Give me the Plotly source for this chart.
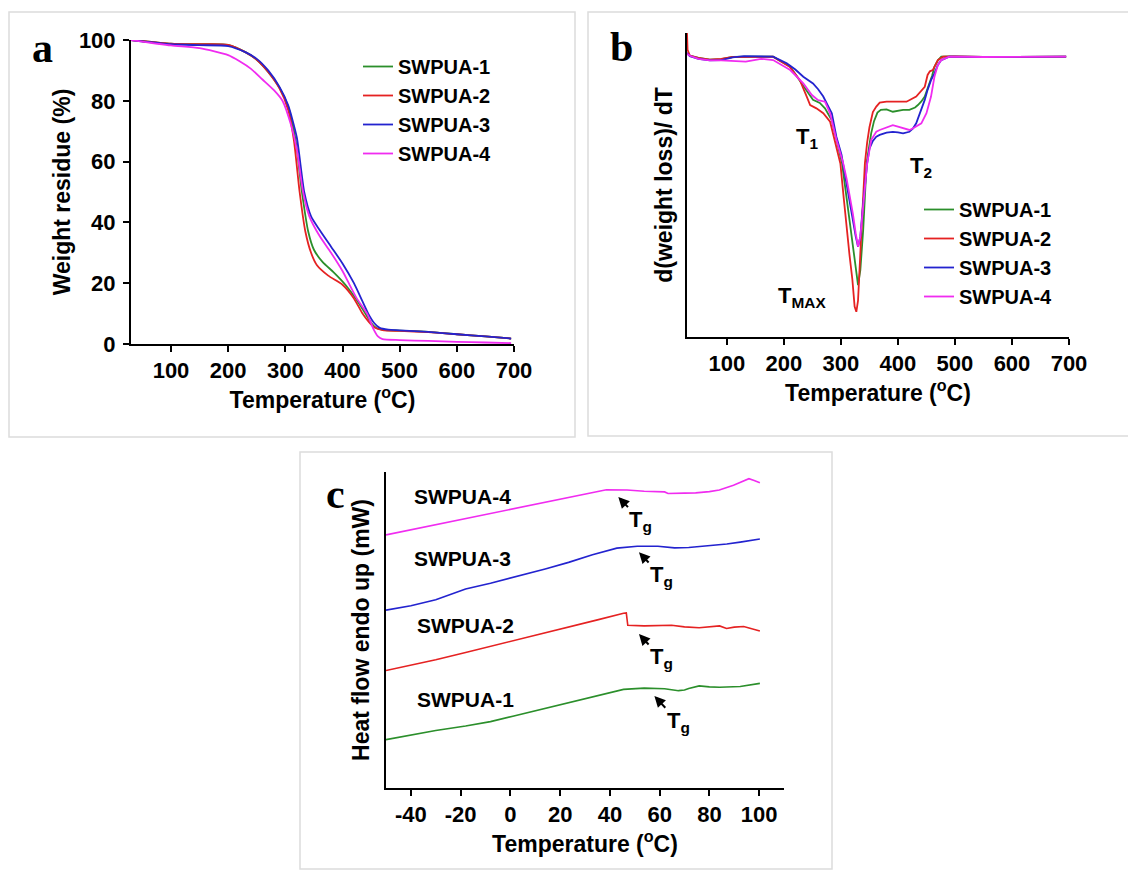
import plotly.graph_objects as go

# ---------------- data ----------------
series_names = ["SWPUA-1", "SWPUA-2", "SWPUA-3", "SWPUA-4"]

# Panel a: TGA weight residue (%)
a_t1 = [30, 100, 150, 200, 230, 250, 270, 290, 305, 318, 329, 340, 350, 365, 385, 405, 425, 440, 450, 460, 475, 500, 550, 600, 650, 695]
a_v1 = [100, 98.8, 98.6, 98.4, 96, 93.5, 89.5, 84.2, 78, 67, 50, 37, 31, 27, 23.5, 19.5, 14.5, 10, 7, 5.2, 4.6, 4.4, 4, 3.2, 2.5, 1.8]
a_t2 = [30, 100, 150, 200, 230, 250, 270, 290, 305, 315, 325, 335, 345, 355, 375, 400, 420, 435, 445, 455, 470, 500, 550, 600, 650, 695]
a_v2 = [100, 98.8, 98.6, 98.4, 96, 93.5, 89.5, 84, 77, 67, 50, 37, 30, 26, 22.5, 19.5, 15, 10, 7.5, 5.5, 4.6, 4.3, 3.9, 3.2, 2.5, 1.8]
a_t3 = [30, 100, 150, 200, 230, 250, 270, 290, 305, 320, 333, 345, 360, 380, 400, 420, 435, 445, 455, 465, 480, 500, 550, 600, 650, 695]
a_v3 = [100, 98.6, 98.3, 98, 96, 93.8, 90, 84.5, 78.5, 68, 50, 42, 37.5, 32, 26.5, 20, 14, 10, 7, 5.3, 4.7, 4.5, 4, 3.2, 2.5, 1.8]
a_t4 = [30, 100, 150, 200, 220, 240, 260, 280, 295, 310, 320, 331, 342, 360, 380, 400, 411, 425, 443, 454, 462, 470, 500, 550, 600, 650, 695]
a_v4 = [100, 98.2, 97.3, 95, 93, 90.5, 87, 83.5, 80, 72, 64, 50, 42, 35.5, 30, 24, 20, 15, 10, 5, 2.5, 1.6, 1.3, 1.0, 0.7, 0.5, 0.3]

# Panel b: DTG (arbitrary units)
b_t1 = [30, 35, 50, 70, 90, 110, 140, 181, 211, 228, 243, 251, 263, 272, 284, 292, 302, 308, 314, 320, 325, 330, 334, 339, 345, 350, 353, 358, 364, 370, 380, 391, 400, 409, 420, 430, 435, 441, 447, 455, 460, 464, 470, 476, 490, 550, 600, 650, 695]
b_v1 = [93.4, 92.6, 91.8, 91.2, 91.4, 92.1, 92.2, 92.2, 88.9, 84.5, 80.2, 78.0, 77.0, 75.2, 71.3, 65.0, 57.1, 48.5, 40, 31.5, 23.5, 17.1, 22, 35.2, 57.1, 63.5, 67, 71, 73.8, 74.7, 74.9, 74.1, 74.5, 74.7, 74.7, 75.5, 76.3, 77.5, 79.1, 83.4, 86, 88.9, 91, 92.2, 92.3, 92.1, 92.2, 92.1, 92.2]
b_t2 = [30, 31, 35, 50, 70, 90, 110, 140, 181, 210, 228, 240, 246, 257, 269, 281, 289, 299, 305, 310, 315, 320, 324, 327, 330, 336, 342, 346, 350, 356, 362, 368, 380, 395, 415, 432, 441, 447, 452, 456, 461, 470, 479, 500, 550, 600, 650, 695]
b_v2 = [100, 94.5, 92.6, 91.8, 91.2, 91.5, 92.1, 92.2, 92.2, 88.9, 84.5, 79.1, 76.3, 75.2, 73.6, 70.8, 64.8, 57.1, 45.5, 35.5, 27, 19, 10, 8.3, 12, 35.2, 57.1, 64, 69, 74, 75.8, 77.1, 77.4, 77.4, 77.4, 79.1, 81, 82.3, 86.2, 87.4, 87.8, 91.1, 92.2, 92.3, 92.1, 92.2, 92.1, 92.2]
b_t3 = [30, 35, 50, 70, 90, 110, 130, 160, 181, 205, 220, 234, 251, 260, 269, 276, 284, 292, 301, 306, 311, 316, 321, 326, 330, 334, 338, 341, 346, 350, 356, 362, 368, 380, 391, 400, 409, 420, 426, 432, 441, 447, 452, 458, 464, 470, 476, 490, 550, 600, 650, 695]
b_v3 = [93.4, 92.4, 91.5, 91.0, 91.1, 92.0, 92.4, 92.4, 92.2, 90.0, 88, 85.6, 83.4, 81.5, 79.1, 76.5, 73.6, 65.9, 60, 54.5, 49, 43.5, 38.5, 33, 29.7, 33, 42, 48, 57.1, 62, 64.5, 65.9, 66.5, 67.2, 67.5, 67.3, 67.0, 67.5, 68.5, 70.3, 74.7, 78, 81.3, 84.5, 86.7, 89.5, 91.1, 92.2, 92.1, 92.2, 92.1, 92.2]
b_t4 = [30, 35, 50, 70, 90, 110, 133, 160, 181, 211, 234, 249, 260, 272, 281, 292, 304, 310, 316, 321, 326, 330, 334, 338, 341, 346, 353, 362, 368, 380, 391, 400, 409, 420, 426, 432, 441, 450, 458, 464, 470, 476, 490, 550, 600, 650, 695]
b_v4 = [93.2, 92.5, 91.5, 91.0, 91.0, 90.8, 90.6, 91.5, 91.1, 87.8, 83.4, 79.6, 77.9, 77.4, 73.6, 65.0, 57.1, 52, 46, 40.5, 34, 29.7, 33, 42, 48, 57.1, 64.8, 67.5, 68.1, 69.0, 69.7, 69.2, 68.6, 68.1, 68.6, 69.2, 70.3, 73.6, 79.1, 85.6, 89.5, 91.1, 92.2, 92.1, 92.2, 92.1, 92.2]

# Panel c: DSC heat flow (arbitrary units, stacked)
c_t1 = [-50, -40, -30, -18, -8, 1.4, 12, 23.4, 35, 45.5, 53.8, 62, 67.6, 70, 71.7, 74, 75.9, 80, 84.1, 92.4, 100.3]
c_v1 = [15.3, 16.8, 18.2, 19.6, 21.0, 22.8, 24.8, 27.0, 29.2, 31.2, 31.6, 31.4, 30.8, 31.0, 31.5, 31.9, 32.3, 32.0, 31.9, 32.1, 33.1]
c_t2 = [-50, -40, -30, -18, -8, 1.4, 12, 23.4, 35, 45.5, 46.6, 47.2, 53.8, 64.8, 70, 75.9, 80, 84.1, 86.9, 90, 93.8, 97, 100.3]
c_v2 = [37.2, 38.8, 40.6, 42.9, 44.8, 46.6, 48.7, 50.8, 53.2, 55.3, 55.4, 51.5, 51.3, 51.5, 51.0, 50.7, 51.0, 51.3, 50.5, 50.9, 51.1, 50.4, 49.7]
c_t3 = [-50, -40, -30, -18, -8, 4.1, 14, 23.4, 33, 42.8, 51, 59.3, 66, 71.7, 76, 81.4, 87, 92.4, 100.3]
c_v3 = [56.3, 57.7, 59.6, 63.0, 64.8, 67.2, 69.3, 71.4, 73.8, 75.9, 76.5, 76.5, 76.0, 76.1, 76.4, 76.7, 77.2, 77.8, 78.8]
c_t4 = [-50, -40, -30, -18, -10, 1.4, 10, 20.7, 30, 38.6, 46.9, 53.8, 62, 63.4, 70, 74.5, 80, 84, 89.7, 93, 95.9, 98, 100.3]
c_v4 = [80.1, 81.7, 83.2, 85.2, 86.5, 88.4, 89.8, 91.5, 93.0, 94.4, 94.3, 93.9, 93.7, 93.2, 93.3, 93.4, 93.8, 94.3, 95.8, 97.0, 97.9, 97.3, 96.6]

# Tg arrows in panel c: arrow tip (T, value) and label position (T, value)
tg_tip_t = [57.9, 51.7, 51.7, 43.4]
tg_tip_v = [29.1, 48.7, 74.6, 92.1]
tg_lab_t = [67.5, 60.8, 60.8, 52.5]
tg_lab_v = [21.0, 41.0, 67.0, 84.5]
c_name_t = [-17.9, -17.9, -19.3, -19.3]
c_name_v = [28.0, 51.3, 72.5, 92.1]

a_ticks = [100, 200, 300, 400, 500, 600, 700]
a_yticks = [0, 20, 40, 60, 80, 100]
c_ticks = [-40, -20, 0, 20, 40, 60, 80, 100]
c_tick_labels = ["-40", "-20", "0", "20", "40", "60", "80", "100"]

# ---------------- layout helpers ----------------
W, H = 1136, 870
OFF = 8  # page body margin offset
def px(x):
    return (x - OFF) / W
def py(y):
    return 1 - (y - OFF) / H

colors = ["#2b8f2b", "#e52222", "#2323cf", "#f02cf0"]
SANS = "Arial, Liberation Sans, sans-serif"
TICKF = dict(family=SANS, size=22, color="black", weight="bold")
TITLEF = dict(family=SANS, size=23, color="black", weight="bold")

fig = go.Figure()

a_data = [(a_t1, a_v1), (a_t2, a_v2), (a_t3, a_v3), (a_t4, a_v4)]
b_data = [(b_t1, b_v1), (b_t2, b_v2), (b_t3, b_v3), (b_t4, b_v4)]
c_data = [(c_t1, c_v1), (c_t2, c_v2), (c_t3, c_v3), (c_t4, c_v4)]

for i, (t, v) in enumerate(a_data):
    fig.add_trace(go.Scatter(x=t, y=v, mode="lines", name=series_names[i],
                             line=dict(color=colors[i], width=1.8, shape="spline", smoothing=0.6),
                             xaxis="x", yaxis="y", legend="legend"))
for i, (t, v) in enumerate(b_data):
    fig.add_trace(go.Scatter(x=t, y=v, mode="lines", name=series_names[i],
                             line=dict(color=colors[i], width=1.8),
                             xaxis="x2", yaxis="y2", legend="legend2"))
for i, (t, v) in enumerate(c_data):
    fig.add_trace(go.Scatter(x=t, y=v, mode="lines", name=series_names[i],
                             line=dict(color=colors[i], width=1.6),
                             xaxis="x3", yaxis="y3", showlegend=False))

axis_common = dict(showline=True, linecolor="black", linewidth=2, showgrid=False,
                   zeroline=False, ticks="outside", ticklen=6, tickwidth=2,
                   tickcolor="black", tickfont=TICKF, mirror=False, automargin=False)

fig.update_layout(
    width=W, height=H, autosize=False,
    margin=dict(l=0, r=0, t=0, b=0, pad=0),
    paper_bgcolor="white", plot_bgcolor="white",
    xaxis=dict(axis_common, domain=[px(131), px(514)], range=[30, 700], tickvals=a_ticks,
               anchor="y", title=dict(text="Temperature (<sup>o</sup>C)", font=TITLEF, standoff=6)),
    yaxis=dict(axis_common, domain=[py(344), py(40)], range=[0, 100], tickvals=a_yticks,
               anchor="x", ticklabelstandoff=3,
               title=dict(text="Weight residue (%)", font=TITLEF, standoff=2)),
    xaxis2=dict(axis_common, domain=[px(687), px(1069)], range=[30, 700], tickvals=a_ticks,
                anchor="y2", title=dict(text="Temperature (<sup>o</sup>C)", font=TITLEF, standoff=6)),
    yaxis2=dict(axis_common, domain=[py(337), py(33)], range=[0, 100], ticks="",
                showticklabels=False, anchor="x2",
                title=dict(text="d(weight loss)/ dT", font=TITLEF, standoff=6)),
    xaxis3=dict(axis_common, domain=[px(386), px(784)], range=[-50, 110], tickvals=c_ticks,
                ticktext=c_tick_labels,
                anchor="y3", title=dict(text="Temperature (<sup>o</sup>C)", font=TITLEF, standoff=6)),
    yaxis3=dict(axis_common, domain=[py(788), py(472)], range=[0, 100], ticks="",
                showticklabels=False, anchor="x3",
                title=dict(text="Heat flow endo up (mW)", font=TITLEF, standoff=8)),
    legend=dict(x=px(358), y=py(47), xanchor="left", yanchor="top",
                font=dict(family=SANS, size=20, color="black", weight="bold"),
                bgcolor="rgba(0,0,0,0)", borderwidth=0, tracegroupgap=0),
    legend2=dict(x=px(919), y=py(190), xanchor="left", yanchor="top",
                 font=dict(family=SANS, size=20, color="black", weight="bold"),
                 bgcolor="rgba(0,0,0,0)", borderwidth=0, tracegroupgap=0),
    showlegend=True,
)

# panel frames
for (x0, y0, x1, y1) in [(9, 12, 575, 437), (588, 12, 1135, 436), (300, 452, 832, 869)]:
    fig.add_shape(type="rect", xref="paper", yref="paper",
                  x0=px(x0), x1=px(x1), y0=py(y1), y1=py(y0),
                  line=dict(color="#dcdcdc", width=1.5), fillcolor="rgba(0,0,0,0)", layer="below")

annotations = []
LETTERF = dict(family="Liberation Serif, Times New Roman, serif", size=42, color="black", weight="bold")
for txt, (x, y) in zip(["a", "b", "c"], [(42, 48), (621, 47), (335, 494)]):
    annotations.append(dict(text=txt, x=px(x), y=py(y), xref="paper", yref="paper",
                            showarrow=False, font=LETTERF, xanchor="center", yanchor="middle"))

LABF = dict(family=SANS, size=22, color="black", weight="bold")
for txt, x, y in [("T<sub>1</sub>", 240, 65.4), ("T<sub>2</sub>", 440, 56), ("T<sub>MAX</sub>", 231, 13.3)]:
    annotations.append(dict(text=txt, x=x, y=y, xref="x2", yref="y2", showarrow=False, font=LABF))

NAMEF = dict(family=SANS, size=21, color="black", weight="bold")
for i in range(4):
    annotations.append(dict(text=series_names[i], x=c_name_t[i], y=c_name_v[i], xref="x3", yref="y3",
                            showarrow=False, font=NAMEF))
    annotations.append(dict(text="T<sub>g</sub>", x=tg_tip_t[i], y=tg_tip_v[i], xref="x3", yref="y3",
                            ax=tg_lab_t[i], ay=tg_lab_v[i], axref="x3", ayref="y3",
                            showarrow=True, arrowhead=2, arrowsize=1.1, arrowwidth=2,
                            arrowcolor="black", standoff=0, font=LABF))

fig.update_layout(annotations=annotations)

fig.write_html("out.html")
